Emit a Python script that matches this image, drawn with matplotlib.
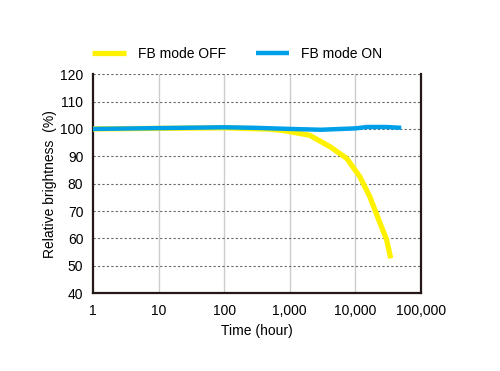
import matplotlib
matplotlib.use("Agg")
import matplotlib.pyplot as plt
from matplotlib.ticker import FixedLocator, NullLocator

plt.rcParams['font.family'] = ['Liberation Sans', 'DejaVu Sans']

# data
off_hours = [1, 100, 500, 800, 2000, 4100, 7400, 11700, 16600, 23700, 30000, 34500]
off_vals = [100, 100.4, 99.9, 99.4, 97.7, 93.5, 89.2, 82.5, 75.2, 65.6, 59.4, 52.7]
on_hours = [1, 10, 100, 300, 1000, 3000, 10000, 15000, 30000, 50000]
on_vals = [100, 100.3, 100.6, 100.4, 100, 99.7, 100.2, 100.7, 100.7, 100.4]

x_ticks = [1, 10, 100, 1000, 10000, 100000]
x_labels = ['1', '10', '100', '1,000', '10,000', '100,000']
y_ticks = [40, 50, 60, 70, 80, 90, 100, 110, 120]

fig = plt.figure(figsize=(5, 3.71), dpi=100)
ax = fig.add_axes([0.186, 0.210, 0.656, 0.590])

ax.plot(off_hours, off_vals, color='#fff200', lw=3.8, solid_joinstyle='round',
        solid_capstyle='butt', label='FB mode OFF', zorder=3)
ax.plot(on_hours, on_vals, color='#00a0e9', lw=3.2, solid_joinstyle='round',
        solid_capstyle='butt', label='FB mode ON', zorder=4)

ax.set_xscale('log')
ax.set_xlim(1, 100000)
ax.set_ylim(40, 120)
ax.xaxis.set_major_locator(FixedLocator(x_ticks))
ax.xaxis.set_minor_locator(NullLocator())
ax.set_xticks(x_ticks)
ax.set_xticklabels(x_labels)
ax.set_yticks(y_ticks)
ax.tick_params(axis='x', length=0, labelsize=10, pad=8)
ax.tick_params(axis='y', length=0, labelsize=10, pad=7)

# grid: solid light verticals, dotted horizontals
for xv in x_ticks[1:-1]:
    ax.axvline(xv, color='#cccccc', lw=1.0, zorder=1)
for yv in y_ticks[1:]:
    ax.axhline(yv, color='#666666', lw=0.8, ls=(0, (2, 2)), zorder=1)

ax.spines['top'].set_visible(False)
for s in ['left', 'bottom', 'right']:
    ax.spines[s].set_linewidth(1.6)
    ax.spines[s].set_color('#231815')

ax.set_xlabel('Time (hour)', fontsize=10, labelpad=4)
ax.set_ylabel('Relative brightness  (%)', fontsize=10, labelpad=2)

fig.legend(loc='center', bbox_to_anchor=(0.475, 0.855), ncol=2, frameon=False,
           fontsize=10, handlelength=2.4, columnspacing=2.1, handletextpad=0.9)

fig.savefig('out.png', dpi=100)
